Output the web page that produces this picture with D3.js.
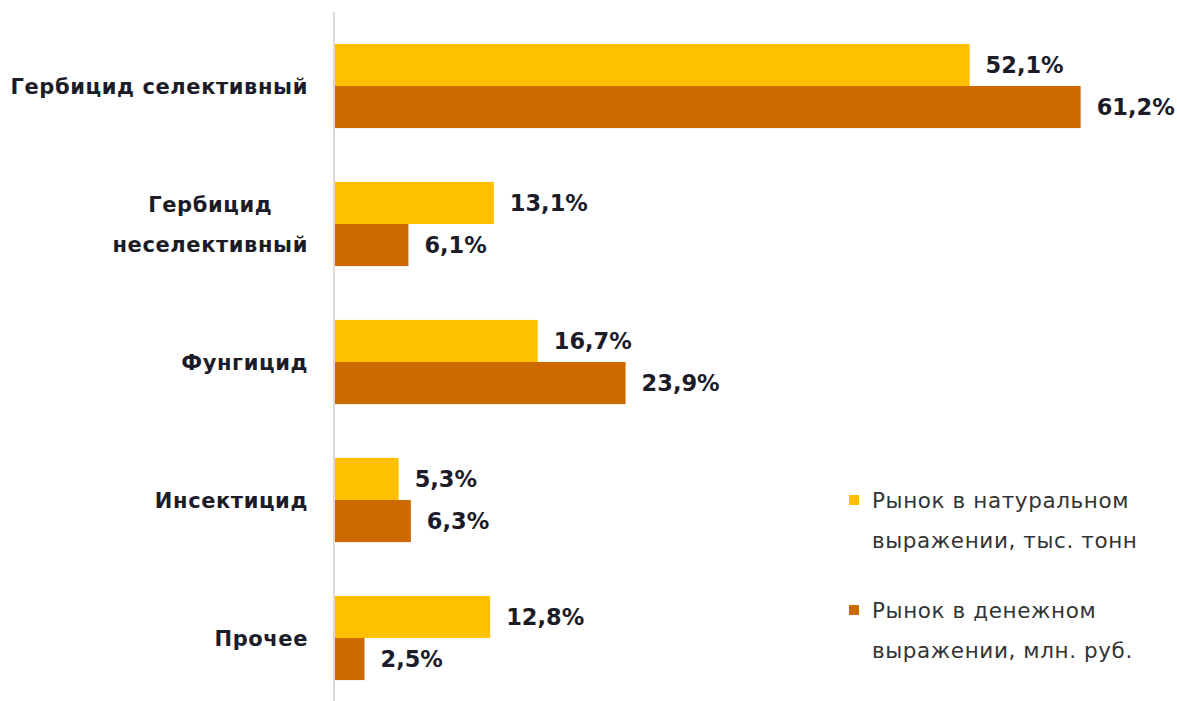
<!DOCTYPE html>
<html><head><meta charset="utf-8">
<script src="https://cdn.jsdelivr.net/npm/d3@7"></script>
<style>body{margin:0;background:#fff}</style>
</head><body>
<svg id="c" width="1177" height="701"></svg>
<script>
const categories = [["Гербицид селективный"], ["Гербицид", "неселективный"], ["Фунгицид"], ["Инсектицид"], ["Прочее"]];
const seriesNames = [["Рынок в натуральном", "выражении, тыс. тонн"], ["Рынок в денежном", "выражении, млн. руб."]];
const naturalValues = [52.1, 13.1, 16.7, 5.3, 12.8];
const moneyValues = [61.2, 6.1, 23.9, 6.3, 2.5];
const colors = ["#FFC000", "#CC6A00"];

const svg = d3.select("#c");
const font = "'DejaVu Sans', sans-serif";
const x = d3.scaleLinear().domain([0, 70]).range([334, 334 + 70 * 12.2]);
const y = d3.scaleBand().domain(d3.range(categories.length)).range([17, 707]).paddingInner(0.39).paddingOuter(0.195);
const sub = d3.scaleBand().domain([0, 1]).range([0, y.bandwidth()]);
const series = [naturalValues, moneyValues];

// axis line
svg.append("line").attr("x1", 334).attr("x2", 334).attr("y1", 12).attr("y2", 701)
  .attr("stroke", "#d9d9d9").attr("stroke-width", 2);

series.forEach((vals, s) => {
  const g = svg.append("g");
  g.selectAll("rect").data(vals).join("rect")
    .attr("x", x(0) + 1).attr("y", (d, i) => y(i) + sub(s))
    .attr("width", d => x(d) - x(0) - 1).attr("height", sub.bandwidth())
    .attr("fill", colors[s]);
  g.selectAll("text").data(vals).join("text")
    .attr("x", d => x(d) + 16).attr("y", (d, i) => y(i) + sub(s) + sub.bandwidth() / 2)
    .attr("dy", "0.36em").attr("font-family", font).attr("font-weight", "bold")
    .attr("font-size", 22.5).attr("fill", "#1c1c28")
    .text(d => d.toFixed(1).replace(".", ",") + "%");
});

// category labels
categories.forEach((lines, i) => {
  const cy = y(i) + y.bandwidth() / 2;
  const lh = 40;
  const g = svg.append("g");
  const texts = lines.map((l, k) => g.append("text")
    .attr("y", cy + (k - (lines.length - 1) / 2) * lh).attr("dy", "0.36em")
    .attr("font-family", font).attr("font-weight", "bold").attr("font-size", 21)
    .attr("letter-spacing", 0.6)
    .attr("fill", "#1c1c28").attr("text-anchor", "middle").text(l));
  const w = d3.max(texts, t => t.node().getComputedTextLength());
  texts.forEach(t => t.attr("x", 308 - w / 2));
});

// legend
seriesNames.forEach((lines, s) => {
  const top = 500 + s * 110;
  svg.append("rect").attr("x", 849).attr("y", top - 5).attr("width", 10).attr("height", 10).attr("fill", colors[s]);
  lines.forEach((l, k) => svg.append("text").attr("x", 872).attr("y", top + k * 40).attr("dy", "0.36em")
    .attr("font-family", font).attr("font-size", 21.5).attr("letter-spacing", 0.6)
    .attr("fill", "#333").text(l));
});
</script>
</body></html>
